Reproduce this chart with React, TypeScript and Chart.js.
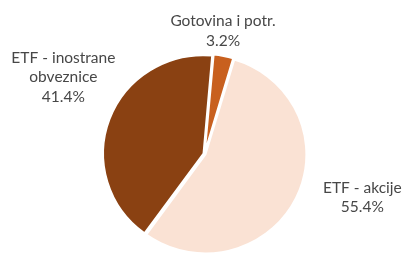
import React, { useEffect, useRef } from "react";
import { Chart, registerables } from "chart.js";

Chart.register(...registerables);

const categories = ["Gotovina i potr.", "ETF - akcije", "ETF - inostrane obveznice"];
const labelLines = [["Gotovina i potr."], ["ETF - akcije"], ["ETF - inostrane", "obveznice"]];
const values = [3.2, 55.4, 41.4];
const colors = ["#C8601F", "#FAE2D4", "#8A4112"];
// label placement tweaks (angle shift in degrees, distance as fraction of radius)
const labelAngleShift = [-2.2, -10.9, 8.1];
const labelDist = [1.27, 1.67, 1.64];
const stretchX = 1.02;

const stretchPlugin = {
  id: "stretch",
  beforeDatasetsDraw(chart: any) {
    const ctx = chart.ctx;
    const meta = chart.getDatasetMeta(0);
    const cx = meta.data[0].x;
    ctx.save();
    ctx.translate(cx, 0);
    ctx.scale(stretchX, 1);
    ctx.translate(-cx, 0);
  },
  afterDatasetsDraw(chart: any) {
    chart.ctx.restore();
  },
};

const labelPlugin = {
  id: "sliceLabels",
  afterDraw(chart: any) {
    const ctx = chart.ctx;
    const meta = chart.getDatasetMeta(0);
    ctx.save();
    ctx.font = "15.5px Lato";
    ctx.fillStyle = "#474747";
    ctx.textAlign = "center";
    ctx.textBaseline = "middle";
    const lh = 19.5;
    meta.data.forEach((arc: any, i: number) => {
      const { x, y, startAngle, endAngle, outerRadius } = arc.getProps(
        ["x", "y", "startAngle", "endAngle", "outerRadius"],
        true
      );
      const mid = (startAngle + endAngle) / 2 + (labelAngleShift[i] * Math.PI) / 180;
      const d = outerRadius * labelDist[i];
      const cx = x + Math.cos(mid) * d;
      const cy = y + Math.sin(mid) * d;
      const lines = [...labelLines[i], values[i].toFixed(1) + "%"];
      const top = cy - ((lines.length - 1) * lh) / 2;
      lines.forEach((t, k) => ctx.fillText(t, cx, top + k * lh));
    });
    ctx.restore();
  },
};

export default function App() {
  const ref = useRef<HTMLCanvasElement>(null);
  useEffect(() => {
    document.body.style.margin = "0";
    const chart = new Chart(ref.current!, {
      type: "pie",
      data: {
        labels: categories,
        datasets: [
          {
            data: values,
            backgroundColor: colors,
            borderColor: "#ffffff",
            borderWidth: 2,
            offset: 4,
            hoverOffset: 0,
          },
        ],
      },
      options: {
        responsive: false,
        animation: false,
        rotation: 5,
        layout: { padding: { top: 53, bottom: 0, left: 3, right: 0 } },
        plugins: { legend: { display: false }, tooltip: { enabled: false } },
      },
      plugins: [stretchPlugin, labelPlugin],
    });
    return () => chart.destroy();
  }, []);
  return (
    <div style={{ width: 406, height: 255, background: "#fff" }}>
      <canvas ref={ref} width={406} height={255} />
    </div>
  );
}
